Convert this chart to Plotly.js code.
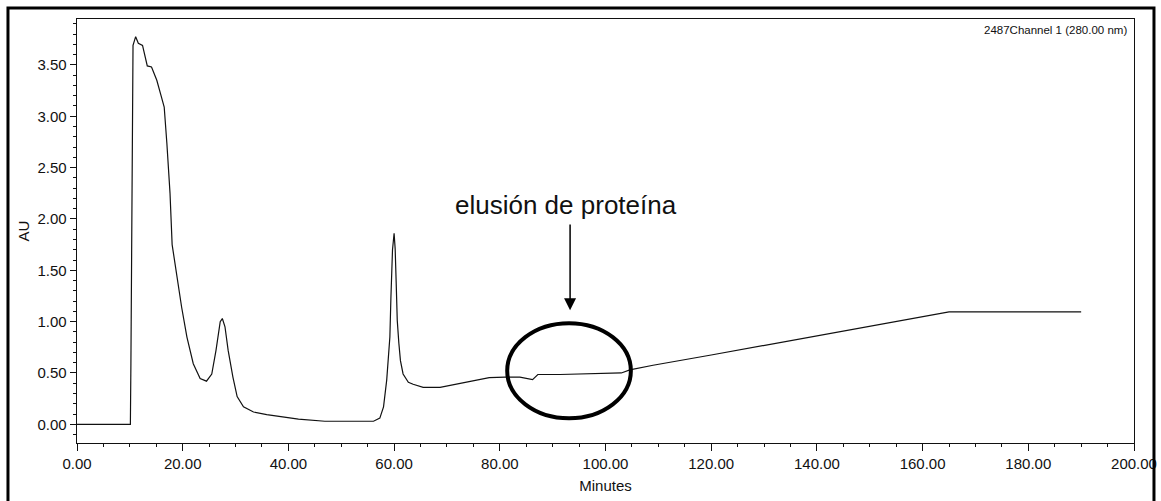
<!DOCTYPE html>
<html>
<head>
<meta charset="utf-8">
<script src="https://cdn.plot.ly/plotly-3.0.1.min.js"></script>
<style>html,body{margin:0;padding:0;background:#fff;}#chart{width:1161px;height:501px;}</style>
</head>
<body>
<div id="chart"></div>
<script>
// Chromatogram, 2487 Channel 1 (280 nm)
const minutes = [0, 10.1, 10.2, 10.4, 10.6, 11.1, 11.6, 12.4, 13.3, 14.1, 15.1, 15.8, 16.5, 17.0, 17.6, 18.0, 18.7, 19.8, 20.8, 22.0, 23.3, 24.5, 25.5, 26.3, 27.1, 27.5, 28.0, 28.6, 29.5, 30.3, 31.5, 33.4, 35.9, 39.0, 41.9, 46.9, 56.1, 57.3, 58.0, 58.6, 58.9, 59.2, 59.4, 59.7, 60.0, 60.2, 60.4, 60.6, 60.9, 61.2, 61.7, 62.7, 63.6, 65.5, 68.7, 72.5, 76.3, 78.0, 81.0, 83.8, 86.2, 87.2, 91.4, 99.0, 103.0, 104.6, 109.0, 120.0, 140.0, 152.0, 165.0, 190.0];
const absorbance = [0, 0, 0.59, 2.54, 3.69, 3.775, 3.71, 3.69, 3.49, 3.48, 3.35, 3.22, 3.09, 2.74, 2.25, 1.75, 1.50, 1.14, 0.85, 0.59, 0.445, 0.42, 0.49, 0.72, 1.00, 1.03, 0.95, 0.72, 0.46, 0.27, 0.17, 0.12, 0.094, 0.071, 0.05, 0.03, 0.03, 0.06, 0.17, 0.43, 0.62, 0.85, 1.24, 1.70, 1.86, 1.71, 1.37, 1.01, 0.79, 0.62, 0.49, 0.41, 0.39, 0.36, 0.36, 0.40, 0.44, 0.455, 0.46, 0.46, 0.435, 0.485, 0.485, 0.49, 0.50, 0.53, 0.575, 0.675, 0.86, 0.97, 1.095, 1.095];
const channelLabel = "2487Channel 1 (280.00 nm)";
const noteText = "elusión de proteína";
const xTitle = "Minutes";
const yTitle = "AU";

const tickFont = {family: "Liberation Sans, Arial, sans-serif", size: 15, color: "#111"};

const data = [{
  x: minutes, y: absorbance, type: "scatter", mode: "lines",
  line: {color: "#111", width: 1.2}, hoverinfo: "x+y"
}];

const layout = {
  width: 1161, height: 501,
  margin: {l: 77, r: 27, t: 19, b: 58, pad: 0},
  paper_bgcolor: "#fff", plot_bgcolor: "#fff",
  showlegend: false,
  font: tickFont,
  xaxis: {
    range: [0, 200], dtick: 20, tick0: 0, tickformat: ".2f",
    ticks: "outside", ticklen: 7, tickwidth: 1, tickcolor: "#111",
    minor: {dtick: 5, ticks: "outside", ticklen: 3, tickwidth: 1, tickcolor: "#111", showgrid: false},
    showline: true, linecolor: "#111", linewidth: 1.3, mirror: true,
    showgrid: false, zeroline: false, tickfont: tickFont,
    title: {text: xTitle, font: tickFont, standoff: 9}
  },
  yaxis: {
    range: [-0.182, 3.947], dtick: 0.5, tick0: 0, tickformat: ".2f",
    ticks: "outside", ticklen: 6, tickwidth: 1, tickcolor: "#111",
    minor: {dtick: 0.1, ticks: "outside", ticklen: 3, tickwidth: 1, tickcolor: "#111", showgrid: false},
    showline: true, linecolor: "#111", linewidth: 1.3, mirror: true,
    showgrid: false, zeroline: false, tickfont: tickFont,
    title: {text: yTitle, font: tickFont, standoff: 4}
  },
  shapes: [
    {type: "rect", xref: "paper", yref: "paper", x0: -0.0653, x1: 1.0189, y0: -0.3, y1: 1.0259,
     line: {color: "#000", width: 3}, fillcolor: "rgba(0,0,0,0)"},
    {type: "circle", xref: "x", yref: "y", x0: 81.4, x1: 104.8, y0: 0.058, y1: 0.984,
     line: {color: "#000", width: 4}, fillcolor: "rgba(0,0,0,0)"}
  ],
  annotations: [
    {xref: "paper", yref: "paper", x: 0.9953, y: 0.974, xanchor: "right", yanchor: "middle",
     text: channelLabel, showarrow: false, font: {family: tickFont.family, size: 11.5, color: "#111"}},
    {xref: "x", yref: "y", x: 92.5, y: 2.14, text: noteText, showarrow: false,
     font: {family: "Liberation Sans, Arial, sans-serif", size: 26, color: "#111"}},
    {xref: "x", yref: "y", x: 93.3, y: 1.11, axref: "x", ayref: "y", ax: 93.3, ay: 1.96,
     text: "", showarrow: true, arrowhead: 2, arrowsize: 1.6, arrowwidth: 1.5, arrowcolor: "#000", standoff: 0}
  ]
};

Plotly.newPlot("chart", data, layout, {staticPlot: true, displayModeBar: false});
</script>
</body>
</html>
